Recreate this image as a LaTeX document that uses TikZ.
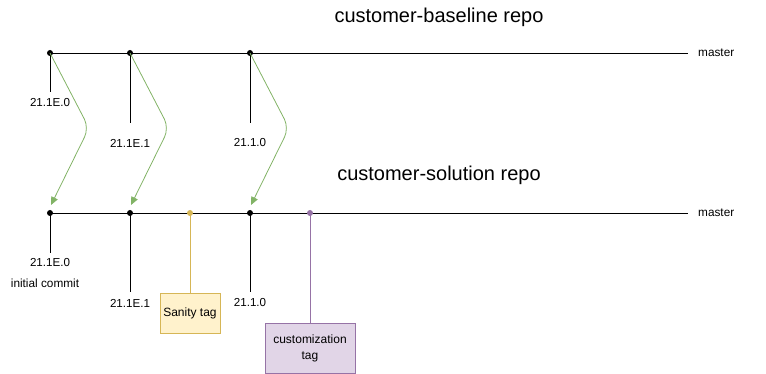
\documentclass[tikz,border=0pt]{standalone}
\usepackage{fontspec}
\setmainfont{Liberation Sans}
\usetikzlibrary{arrows.meta}
\definecolor{gr}{HTML}{82B366}
\definecolor{yl}{HTML}{D6B656}
\definecolor{ylf}{HTML}{FFF2CC}
\definecolor{pu}{HTML}{9673A6}
\definecolor{puf}{HTML}{E1D5E7}
\begin{document}
\begin{tikzpicture}[x=1pt,y=-1pt,
  dot/.style={circle,fill=#1,inner sep=0pt,minimum size=6pt},
  lbl/.style={font=\fontsize{11.6}{13}\selectfont,inner sep=1pt,anchor=center},
  small/.style={font=\fontsize{11.8}{13}\selectfont,inner sep=1pt},
  title/.style={font=\fontsize{20}{23}\selectfont},
  branch/.style={line width=0.9pt},
  stem/.style={line width=0.9pt},
  merge/.style={draw=gr,line width=0.8pt,rounded corners=10pt,-{Triangle[length=8pt,width=7pt]}},
  tagbox/.style={draw=#1,line width=0.8pt,font=\fontsize{12}{14}\selectfont,align=center}
]
\useasboundingbox (0,0) rectangle (766,374);
% titles
\node[title] (t1) at (439,17) {customer-baseline repo};
\node[title] (t2) at (439,175) {customer-solution repo};
% top branch
\coordinate (a0) at (50,53);
\coordinate (a1) at (130,53);
\coordinate (a2) at (250,53);
\coordinate (aend) at (688,53);
\node[small,anchor=west] (m1) at (697,53) {master};
\draw[branch] (a0) -- (aend);
\node[lbl] (la0) at (50,103) {21.1E.0};
\node[lbl] (la1) at (130,143) {21.1E.1};
\node[lbl] (la2) at (250,143) {21.1.0};
\draw[stem] (a0) -- (50,92);
\draw[stem] (a1) -- (130,123);
\draw[stem] (a2) -- (250,123);
\node[dot=black] at (a0) {};
\node[dot=black] at (a1) {};
\node[dot=black] at (a2) {};
% bottom branch
\coordinate (b0) at (50,213);
\coordinate (b1) at (130,213);
\coordinate (bs) at (190,213);
\coordinate (b2) at (250,213);
\coordinate (bc) at (310,213);
\coordinate (bend) at (688,213);
\node[small,anchor=west] (m2) at (697,213) {master};
\draw[branch] (b0) -- (bend);
\node[lbl] (lb0) at (50,263) {21.1E.0};
\node[small] (lb0i) at (45,283) {initial commit};
\node[lbl] (lb1) at (130,303) {21.1E.1};
\node[lbl] (lb2) at (250,303) {21.1.0};
\draw[stem] (b0) -- (50,253);
\draw[stem] (b1) -- (130,292);
\draw[stem] (b2) -- (250,292);
\node[tagbox=yl,fill=ylf,minimum width=60pt,minimum height=40pt] (sanity) at (190,313) {Sanity tag};
\node[tagbox=pu,fill=puf,minimum width=90pt,minimum height=50pt,text width=80pt] (cust) at (310,348) {customization\\[2pt]tag};
\draw[yl,line width=0.8pt] (bs) -- (sanity.north);
\draw[pu,line width=0.8pt] (bc) -- (cust.north);
\node[dot=black] at (b0) {};
\node[dot=black] at (b1) {};
\node[dot=yl] at (bs) {};
\node[dot=black] at (b2) {};
\node[dot=pu] at (bc) {};
% merges
\draw[merge] (a0) -- (89,128) -- (51,205);
\draw[merge] (a1) -- (169,128) -- (131,205);
\draw[merge] (a2) -- (289,128) -- (251,205);
\end{tikzpicture}
\end{document}
